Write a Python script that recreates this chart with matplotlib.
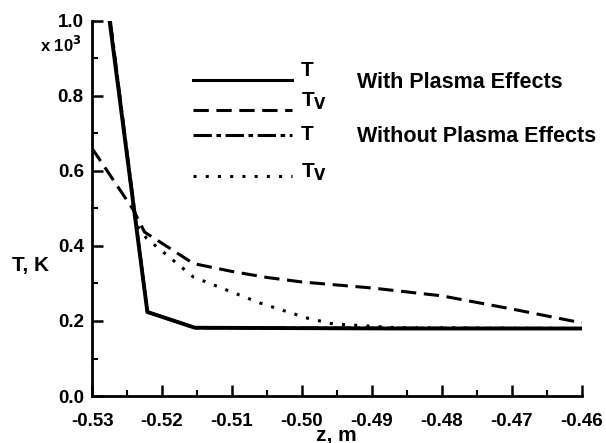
import matplotlib
matplotlib.use("Agg")
import matplotlib.pyplot as plt
from matplotlib.ticker import MultipleLocator, FormatStrFormatter

plt.rcParams['font.family'] = ['Liberation Sans', 'DejaVu Sans']
plt.rcParams['font.weight'] = 'bold'

# Datos (z en m, T en miles de K)
z_T_plasma = [-0.5275, -0.5221, -0.5153, -0.4864, -0.46]
T_plasma = [1.0, 0.224, 0.182, 0.180, 0.180]

z_Tv_plasma = [-0.53, -0.5241, -0.5225, -0.5155, -0.51, -0.505, -0.50, -0.49, -0.48, -0.47, -0.46]
Tv_plasma = [0.66, 0.496, 0.437, 0.353, 0.332, 0.316, 0.304, 0.288, 0.267, 0.232, 0.195]

z_T_sin = [-0.5274, -0.5221, -0.5153, -0.46]
T_sin = [1.0, 0.224, 0.182, 0.180]

z_Tv_sin = [-0.5274, -0.5238, -0.5222, -0.5155, -0.506, -0.4993, -0.4955, -0.4864, -0.46]
Tv_sin = [1.0, 0.46, 0.42, 0.317, 0.248, 0.208, 0.192, 0.182, 0.180]

fig = plt.figure(figsize=(6.06, 4.43), dpi=100)
ax = fig.add_axes([0.152, 0.106, 0.808, 0.847])

ax.plot(z_T_plasma, T_plasma, color='black', lw=2.8, ls='-')
ax.plot(z_Tv_plasma, Tv_plasma, color='black', lw=2.2, ls=(0, (5, 2.5)))
ax.plot(z_T_sin, T_sin, color='black', lw=2.2, ls=(0, (6, 1.5, 1.5, 1.5)))
ax.plot(z_Tv_sin, Tv_sin, color='black', lw=2.2, ls=(0, (1, 3)))

ax.set_xlim(-0.53, -0.46)
ax.set_ylim(0.0, 1.0)
ax.xaxis.set_major_locator(MultipleLocator(0.01))
ax.xaxis.set_minor_locator(MultipleLocator(0.005))
ax.yaxis.set_major_locator(MultipleLocator(0.2))
ax.yaxis.set_minor_locator(MultipleLocator(0.1))
ax.xaxis.set_major_formatter(FormatStrFormatter('%.2f'))
ax.yaxis.set_major_formatter(FormatStrFormatter('%.1f'))

for s in ['top', 'right']:
    ax.spines[s].set_visible(False)
for s in ['left', 'bottom']:
    ax.spines[s].set_linewidth(2.0)
ax.tick_params(which='major', direction='in', length=8, width=1.8, labelsize=13.5)
ax.tick_params(axis='x', which='major', pad=12)
ax.tick_params(axis='y', which='major', pad=6)
ax.tick_params(which='minor', direction='in', length=4, width=1.5)
for lab in ax.get_xticklabels() + ax.get_yticklabels():
    lab.set_fontweight('bold')

fig.text(12 / 606, 1 - 265 / 443, 'T, K', fontsize=15, fontweight='bold', ha='left', va='center')
fig.text(336 / 606, 1 - 435 / 443, 'z, m', fontsize=15, fontweight='bold', ha='center', va='center')
fig.text(82 / 606, 1 - 45 / 443, r'x 10$^{\mathbf{3}}$', fontsize=12, fontweight='bold', ha='right', va='center')

# Leyenda dibujada a mano en coordenadas de figura
leyenda = [('-', 80, 70, 'T'), ((0, (5, 2.5)), 110, 101, r'T$_{\mathbf{V}}$'),
           ((0, (6, 1.5, 1.5, 1.5)), 135, 134, 'T'), ((0, (1, 3)), 176, 172, r'T$_{\mathbf{V}}$')]
for estilo, ylin, ytxt, txt in leyenda:
    yf = 1 - ylin / 443
    fig.add_artist(plt.Line2D([193 / 606, 292 / 606], [yf, yf], color='black', lw=2.2, ls=estilo,
                              transform=fig.transFigure))
    fig.text(301 / 606, 1 - ytxt / 443, txt, fontsize=15, fontweight='bold', ha='left', va='center')

fig.text(357 / 606, 1 - 83 / 443, 'With Plasma Effects', fontsize=15.5, fontweight='bold', va='center')
fig.text(357 / 606, 1 - 136 / 443, 'Without Plasma Effects', fontsize=15.5, fontweight='bold', va='center')

fig.savefig('out.png', dpi=100)
